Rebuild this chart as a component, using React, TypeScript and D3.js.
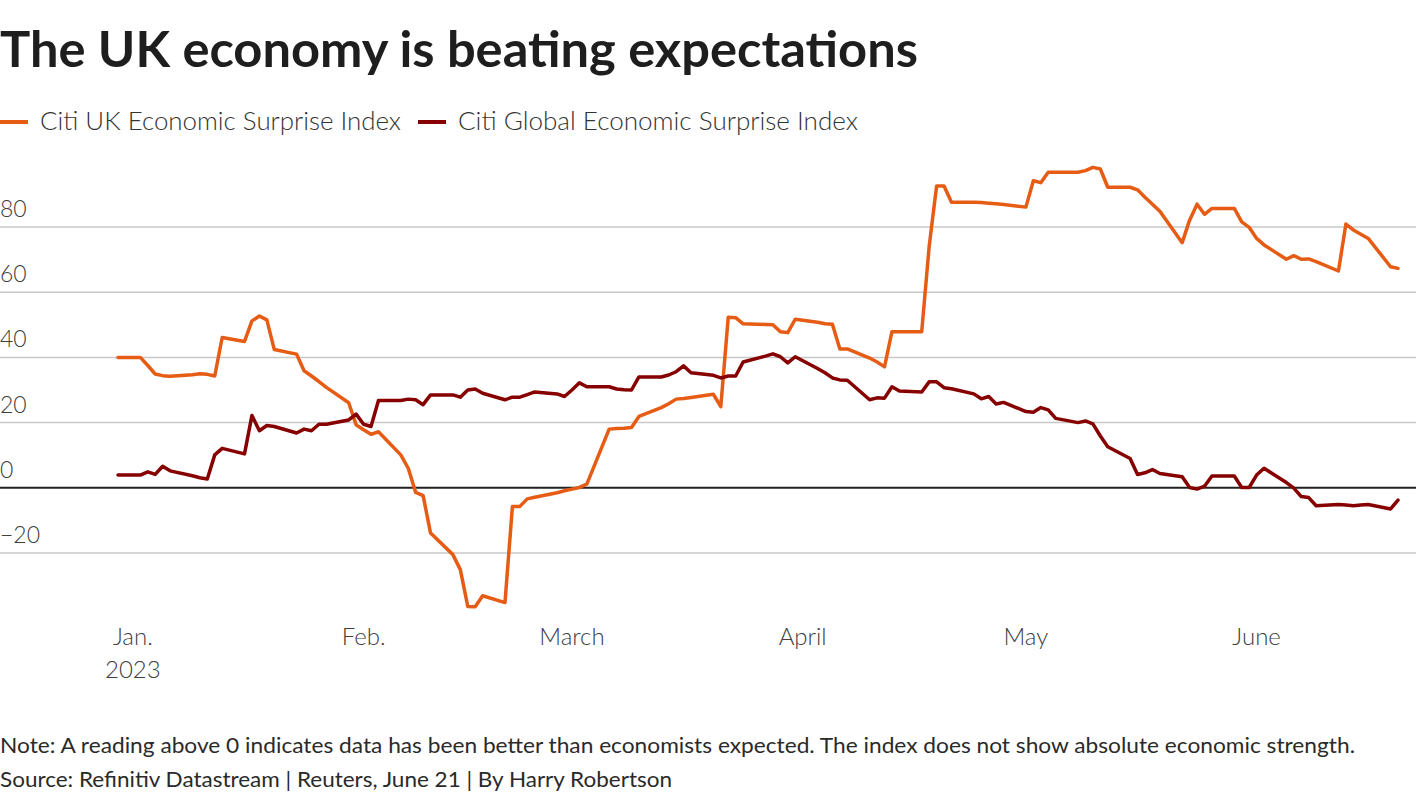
import React from 'react';
import * as d3 from 'd3';

const ukDates = [
  '2022-12-30','2023-01-02','2023-01-03','2023-01-04','2023-01-05','2023-01-06','2023-01-09','2023-01-10','2023-01-11','2023-01-12','2023-01-13',
  '2023-01-16','2023-01-17','2023-01-18','2023-01-19','2023-01-20','2023-01-23','2023-01-24','2023-01-25','2023-01-26','2023-01-27',
  '2023-01-30','2023-01-31','2023-02-01','2023-02-02','2023-02-03','2023-02-06','2023-02-07','2023-02-08','2023-02-09','2023-02-10',
  '2023-02-13','2023-02-14','2023-02-15','2023-02-16','2023-02-17','2023-02-20','2023-02-21','2023-02-22','2023-02-23','2023-02-24',
  '2023-02-27','2023-02-28','2023-03-01','2023-03-02','2023-03-03','2023-03-06','2023-03-07','2023-03-08','2023-03-09','2023-03-10',
  '2023-03-13','2023-03-14','2023-03-15','2023-03-16','2023-03-17','2023-03-20','2023-03-21','2023-03-22','2023-03-23','2023-03-24',
  '2023-03-27','2023-03-28','2023-03-29','2023-03-30','2023-03-31','2023-04-03','2023-04-04','2023-04-05','2023-04-06','2023-04-07',
  '2023-04-10','2023-04-11','2023-04-12','2023-04-13','2023-04-14','2023-04-17','2023-04-18','2023-04-19','2023-04-20','2023-04-21',
  '2023-04-24','2023-04-25','2023-04-26','2023-04-27','2023-04-28','2023-05-01','2023-05-02','2023-05-03','2023-05-04','2023-05-05',
  '2023-05-08','2023-05-09','2023-05-10','2023-05-11','2023-05-12','2023-05-15','2023-05-16','2023-05-17','2023-05-18','2023-05-19',
  '2023-05-22','2023-05-23','2023-05-24','2023-05-25','2023-05-26','2023-05-29','2023-05-30','2023-05-31','2023-06-01','2023-06-02',
  '2023-06-05','2023-06-06','2023-06-07','2023-06-08','2023-06-09','2023-06-12','2023-06-13','2023-06-14','2023-06-15','2023-06-16',
  '2023-06-19','2023-06-20',
];
const ukValues = [
  40, 40, 37.5, 34.9, 34.4, 34.2, 34.7, 35, 34.8, 34.3, 46.1,
  44.9, 51.2, 52.7, 51.5, 42.4, 41, 35.9, 34.3, 32.6, 30.8,
  26.1, 19.3, 17.8, 16.4, 17.2, 10.1, 6, -1.4, -2.4, -13.9,
  -20.5, -25.1, -36.4, -36.5, -33.1, -35.2, -5.7, -5.7, -3.4, -2.9,
  -1.5, -0.9, -0.4, 0.1, 1.1, 18, 18.2, 18.3, 18.5, 21.9,
  24.6, 25.8, 27.2, 27.4, 27.7, 28.7, 24.9, 52.3, 52.2, 50.3,
  50.1, 50, 47.9, 47.6, 51.7, 50.8, 50.3, 50.2, 42.6, 42.6,
  39.8, 38.6, 37.1, 47.9, 47.9, 47.9, 74, 92.6, 92.6, 87.6,
  87.6, 87.5, 87.3, 87.1, 86.9, 86.1, 94.2, 93.6, 96.8, 96.8,
  96.8, 97.3, 98.3, 97.8, 92.2, 92.2, 91.4, 89.1, 87, 84.8,
  75.2, 82.1, 87, 83.9, 85.7, 85.7, 81.6, 79.9, 76.5, 74.5,
  70.1, 71.2, 70.1, 70.2, 69.4, 66.5, 80.9, 79.1, 77.8, 76.5,
  67.8, 67.3,
];

const globalDates = ukDates;
const globalValues = [
  3.9, 3.9, 4.9, 4.1, 6.6, 5.2, 3.7, 3.1, 2.7, 10.1, 12.1,
  10.4, 22.2, 17.5, 19.1, 18.8, 16.8, 18, 17.5, 19.5, 19.5,
  20.8, 22.6, 19.5, 18.8, 26.8, 26.8, 27.2, 27, 25.5, 28.5,
  28.5, 27.8, 30, 30.3, 29, 27, 27.8, 27.8, 28.6, 29.4,
  28.8, 28, 30, 32.2, 31, 31, 30.3, 30.1, 30, 34,
  34, 34.6, 35.6, 37.4, 35.3, 34.5, 33.7, 34.3, 34.3, 38.6,
  40.4, 41.1, 40.2, 38.3, 40.2, 36.6, 35.3, 33.7, 33.1, 33,
  27, 27.6, 27.5, 31, 29.7, 29.4, 32.5, 32.5, 30.7, 30.4,
  28.8, 27.3, 28, 25.7, 26.2, 23.4, 23.2, 24.6, 23.9, 21.3,
  20, 20.5, 19.6, 15.9, 12.6, 9, 4.1, 4.6, 5.6, 4.4,
  3.4, 0.1, -0.4, 0.5, 3.6, 3.6, 0.1, 0.1, 3.9, 6,
  1.6, -0.1, -2.7, -3, -5.5, -5.1, -5.3, -5.5, -5.3, -5.1,
  -6.5, -3.8,
];

const yTicks = [-20, 0, 20, 40, 60, 80];
const monthTicks = ['2023-01-01', '2023-02-01', '2023-03-01', '2023-04-01', '2023-05-01', '2023-06-01'];
const monthLabels = ['Jan.', 'Feb.', 'March', 'April', 'May', 'June'];
const seriesNames = ['Citi UK Economic Surprise Index', 'Citi Global Economic Surprise Index'];
const seriesColors = ['#e65c14', '#870000'];

const title = 'The UK economy is beating expectations';
const note = 'Note: A reading above 0 indicates data has been better than economists expected. The index does not show absolute economic strength.';
const source = 'Source: Refinitiv Datastream | Reuters, June 21 | By Harry Robertson';

const FONT = "'Source Sans Pro', Lato, 'Noto Sans', sans-serif";

export default function App() {
  const W = 1420;
  const H = 800;
  const parse = d3.utcParse('%Y-%m-%d');
  const x = d3.scaleUtc()
    .domain([parse('2022-12-30')!, parse('2023-06-20')!])
    .range([118, 1398]);
  const y = d3.scaleLinear().domain([-20, 80]).range([553, 227]);

  const uk = ukDates.map((d, i) => ({ date: parse(d)!, value: ukValues[i] }));
  const gl = globalDates.map((d, i) => ({ date: parse(d)!, value: globalValues[i] }));
  const line = d3.line<{ date: Date; value: number }>()
    .x((d) => x(d.date))
    .y((d) => y(d.value));

  const fmt = (v: number) => (v < 0 ? '\u2212' + Math.abs(v) : String(v));

  return (
    <svg width={W} height={H} style={{ position: 'absolute', left: 0, top: 0, background: '#fff' }} fontFamily={FONT}>
      <text x={0} y={67} fontSize={49} fontWeight={700} fill="#1e1e1e" textLength={918} lengthAdjust="spacingAndGlyphs">{title}</text>

      {/* legend */}
      <line x1={0} x2={28} y1={122} y2={122} stroke={seriesColors[0]} strokeWidth={4} />
      <text x={40} y={130} fontSize={25} fontWeight={300} fill="#333" textLength={361} lengthAdjust="spacingAndGlyphs">{seriesNames[0]}</text>
      <line x1={418} x2={446} y1={122} y2={122} stroke={seriesColors[1]} strokeWidth={4} />
      <text x={458} y={130} fontSize={25} fontWeight={300} fill="#333" textLength={400} lengthAdjust="spacingAndGlyphs">{seriesNames[1]}</text>

      {/* grid */}
      {yTicks.map((t) => (
        <g key={t}>
          <line x1={0} x2={1416} y1={y(t)} y2={y(t)} stroke={t === 0 ? '#222' : '#c8c8c8'} strokeWidth={t === 0 ? 2 : 1.5} />
          <text x={0} y={y(t) - 10} fontSize={23} fontWeight={300} fill="#404040">{fmt(t)}</text>
        </g>
      ))}

      {/* x axis labels */}
      {monthTicks.map((m, i) => (
        <text key={m} x={x(parse(m)!)} y={645} fontSize={24} fontWeight={300} fill="#404040" textAnchor="middle">{monthLabels[i]}</text>
      ))}
      <text x={x(parse(monthTicks[0])!)} y={678} fontSize={24} fontWeight={300} fill="#404040" textAnchor="middle">2023</text>

      {/* lines */}
      <path d={line(uk) || ''} fill="none" stroke={seriesColors[0]} strokeWidth={3.5} strokeLinejoin="round" strokeLinecap="round" />
      <path d={line(gl) || ''} fill="none" stroke={seriesColors[1]} strokeWidth={3.5} strokeLinejoin="round" strokeLinecap="round" />

      <text x={0} y={753} fontSize={21.5} fontWeight={400} fill="#2a2a2a" textLength={1355} lengthAdjust="spacingAndGlyphs">{note}</text>
      <text x={0} y={787} fontSize={21.5} fontWeight={400} fill="#2a2a2a" textLength={672} lengthAdjust="spacingAndGlyphs">{source}</text>
    </svg>
  );
}
